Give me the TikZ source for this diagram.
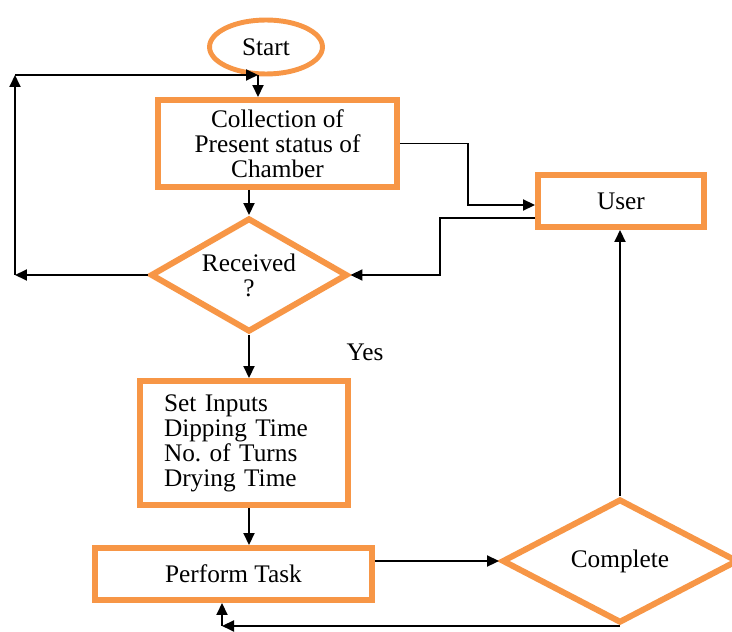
\documentclass[tikz,border=0pt]{standalone}
\usepackage{fontspec}
\setmainfont{Liberation Serif}
\usetikzlibrary{positioning,shapes,arrows.meta}

\definecolor{flowOrange}{RGB}{247,150,70}

\begin{document}
\begin{tikzpicture}[x=0.02cm, y=-0.02cm,
	font=\fontsize{14.4}{14.2}\selectfont,
	block/.style={draw=flowOrange, line width=3.4pt, inner sep=2pt},
	decision/.style={diamond, draw=flowOrange, line width=3.4pt, inner sep=0pt, align=center},
	terminal/.style={ellipse, draw=flowOrange, line width=2.8pt},
	flow/.style={line width=1.1pt, -{Triangle[length=0.24cm, width=0.22cm]}},
]

\useasboundingbox[fill=white] (0,0) rectangle (732,631);

% Start
\node [terminal,
	minimum width=2.26cm,
	minimum height=1.08cm
] (start) at (266,47) {Start};

% Collection of status
\node [block,
	minimum width=4.78cm,
	minimum height=1.74cm,
	align=center
] (coll) at (277.5,143.5) {
Collection of\\
Present status of\\
Chamber
};

% Received ?
\node [decision,
	aspect=1.7,
	minimum width=3.94cm,
	minimum height=2.28cm
] (recv) at (249,275) {
Received\\
?
};

% User
\node [block,
	minimum width=3.32cm,
	minimum height=1.04cm
] (user) at (621,201) {User};

% Set inputs
\node [block,
	minimum width=4.16cm,
	minimum height=2.48cm,
	text width=3.2cm,
	align=left
] (setin) at (244,443) {
Set Inputs\\
Dipping Time\\
No.\ of Turns\\
Drying Time
};

% Perform task
\node [block,
	minimum width=5.54cm,
	minimum height=1.04cm
] (task) at (233.5,574) {Perform Task};

% Complete ?
\node [decision,
	aspect=1.9,
	minimum width=4.72cm,
	minimum height=2.48cm
] (done) at (620,561) {Complete};

% Yes label
\node (yes) at (365,352) {Yes};

% Junction points
\coordinate (jn) at (258,75);
\coordinate (lftx) at (15,0);
\coordinate (r1) at (468,205);
\coordinate (r2) at (440,218);
\coordinate (blx) at (222,0);

% Main column
\draw[flow] (jn) -- (jn |- coll.north);
\draw[flow] (recv.north |- coll.south) -- (recv.north);
\draw[flow] (recv.south) -- (recv.south |- setin.north);
\draw[flow] (recv.south |- setin.south) -- (recv.south |- task.north);

% Loop back on the left
\draw[flow] (recv.west) -- (recv.west -| lftx) coordinate (lft);
\draw[flow] (lft) -- (lft |- jn);
\draw[flow] (lft |- jn) -- (jn);

% To and from user
\draw[flow] (coll.east) -| (r1) -- (r1 -| user.west);
\draw[flow] (r2 -| user.west) -- (r2) |- (recv.east);

% Task and completion
\draw[flow] (task.east |- done.west) -- (done.west);
\draw[flow] (done.north) -- (done.north |- user.south);
\draw[flow] (done.south) -- (done.south -| blx) coordinate (blc);
\draw[flow] (blc) -- (blc |- task.south);

\end{tikzpicture}
\end{document}
